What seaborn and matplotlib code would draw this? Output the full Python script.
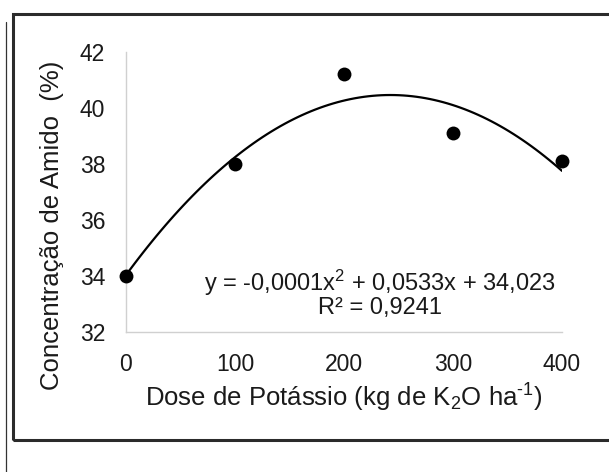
import matplotlib
matplotlib.use("Agg")
import matplotlib.pyplot as plt
import seaborn as sns
import pandas as pd
from matplotlib.patches import Rectangle
from matplotlib.lines import Line2D

dose = [0, 100, 200, 300, 400]
amido = [34.0, 38.0, 41.2, 39.1, 38.1]
x_ticks = [0, 100, 200, 300, 400]
y_ticks = [32, 34, 36, 38, 40, 42]
eq_text = "y = -0,0001x$^{2}$ + 0,0533x + 34,023\nR² = 0,9241"

sns.set_style("white")
plt.rcParams['font.family'] = ['Liberation Sans', 'DejaVu Sans']
plt.rcParams['mathtext.fontset'] = 'custom'
plt.rcParams['mathtext.rm'] = 'Liberation Sans'
plt.rcParams['mathtext.it'] = 'Liberation Sans'
plt.rcParams['mathtext.default'] = 'rm'

df = pd.DataFrame({"dose": dose, "amido": amido})

fig = plt.figure(figsize=(6.09, 4.72), dpi=100)
ax = fig.add_axes([126/609, 1-332/472, (562-126)/609, (332-52)/472])

sns.regplot(data=df, x="dose", y="amido", order=2, ci=None, ax=ax,
            scatter_kws=dict(s=100, color="black", alpha=1, clip_on=False, zorder=3, linewidths=0),
            line_kws=dict(color="black", lw=1.6))

ax.set_xlim(0, 400)
ax.set_ylim(32, 42)
ax.set_xticks(x_ticks)
ax.set_yticks(y_ticks)
ax.tick_params(axis='both', length=0, labelsize=16.5, colors='#1a1a1a')
ax.tick_params(axis='x', pad=15)
ax.tick_params(axis='y', pad=15)
for s in ['top', 'right']:
    ax.spines[s].set_visible(False)
for s in ['left', 'bottom']:
    ax.spines[s].set_color('#d0d0d0')
    ax.spines[s].set_linewidth(1)

ax.set_xlabel("")
ax.set_ylabel("")
fig.text(344/609, 1-398/472, "Dose de Potássio (kg de K$_{2}$O ha$^{\\text{-}1}$)", fontsize=18.5,
         color='#1a1a1a', ha='center', va='center')
fig.text(52/609, 1-225/472, "Concentração de Amido  (%)", rotation=90, fontsize=18.5,
         color='#1a1a1a', ha='center', va='center')

fig.text(380/609, 1-293/472, eq_text, ha='center', va='center',
         fontsize=17, color='#1a1a1a', linespacing=0.95)

fig.patches.append(Rectangle((13/609, 1-440/472), 1.0, (440-14)/472, transform=fig.transFigure,
                             fill=False, edgecolor='#2b2b2b', lw=2.2, clip_on=False))
fig.lines.append(Line2D([6/609, 6/609], [0, 1-22/472], transform=fig.transFigure,
                        color='#333333', lw=0.9))

fig.savefig("out.png", dpi=100)
